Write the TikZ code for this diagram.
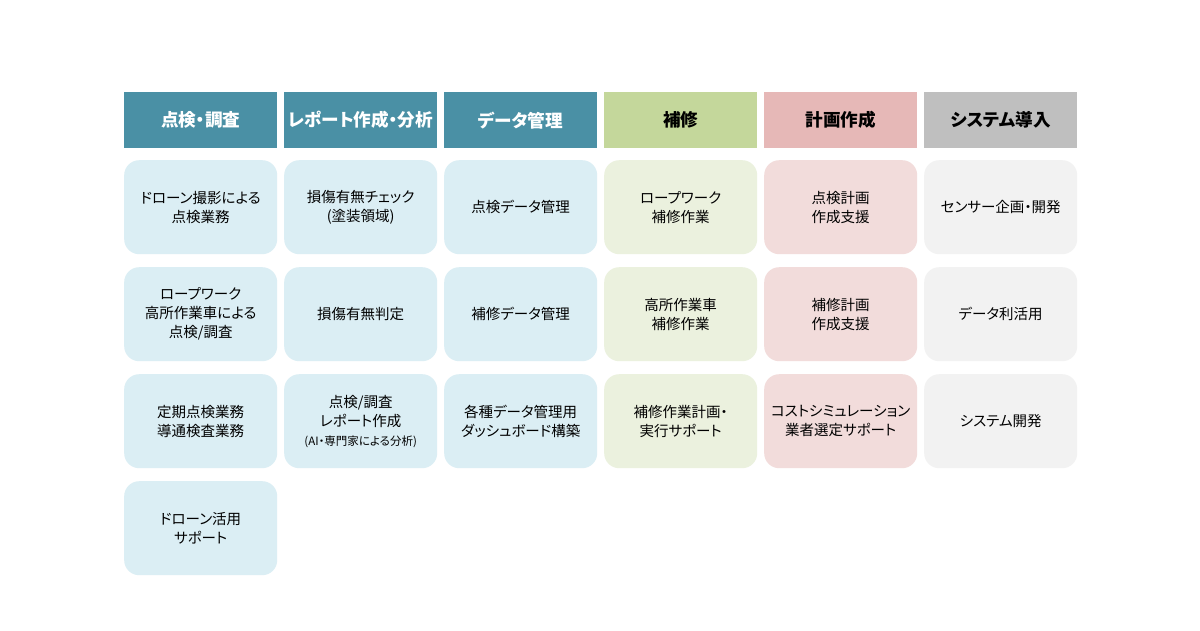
\documentclass[tikz,border=0pt]{standalone}
\usepackage{fontspec}
\setmainfont{Noto Sans CJK JP}[RawFeature=+palt]
\begin{document}
\begin{tikzpicture}[x=1pt,y=-1pt,
  hdr/.style={minimum width=153pt,minimum height=56pt,inner sep=0pt,font=\fontsize{17.6}{20}\selectfont\bfseries,anchor=north west},
  card/.style={minimum width=153pt,minimum height=94pt,inner sep=0pt,rounded corners=15pt,align=center,font=\fontsize{14.5}{19}\selectfont,anchor=north west},
  bluehdr/.style={hdr,fill=hteal,text=white},
  greenhdr/.style={hdr,fill=hgreen,text=black},
  pinkhdr/.style={hdr,fill=hpink,text=black},
  greyhdr/.style={hdr,fill=hgrey,text=black},
  bluecard/.style={card,fill=cblue},
  greencard/.style={card,fill=cgreen},
  pinkcard/.style={card,fill=cpink},
  greycard/.style={card,fill=cgrey}]
\definecolor{hteal}{HTML}{4A90A5}
\definecolor{hgreen}{HTML}{C4D79B}
\definecolor{hpink}{HTML}{E6B8B7}
\definecolor{hgrey}{HTML}{BFBFBF}
\definecolor{cblue}{HTML}{DBEEF4}
\definecolor{cgreen}{HTML}{EBF1DE}
\definecolor{cpink}{HTML}{F2DCDB}
\definecolor{cgrey}{HTML}{F2F2F2}
\useasboundingbox[fill=white] (0,0) rectangle (1200,630);
% headers
\node[bluehdr] (h1) at (124,92) {点検・調査};
\node[bluehdr] (h2) at (284,92) {レポート作成・分析};
\node[bluehdr] (h3) at (444,92) {データ管理};
\node[greenhdr] (h4) at (604,92) {補修};
\node[pinkhdr] (h5) at (764,92) {計画作成};
\node[greyhdr] (h6) at (924,92) {システム導入};
% column 1
\node[bluecard] (c11) at (124,160) {ドローン撮影による\\点検業務};
\node[bluecard] (c12) at (124,267) {ロープワーク\\高所作業車による\\点検/調査};
\node[bluecard] (c13) at (124,374) {定期点検業務\\導通検査業務};
\node[bluecard] (c14) at (124,481) {ドローン活用\\サポート};
% column 2
\node[bluecard] (c21) at (284,160) {損傷有無チェック\\(塗装領域)};
\node[bluecard] (c22) at (284,267) {損傷有無判定};
\node[bluecard] (c23) at (284,374) {点検/調査\\レポート作成\\{\fontsize{11.5}{16}\selectfont (AI・専門家による分析)}};
% column 3
\node[bluecard] (c31) at (444,160) {点検データ管理};
\node[bluecard] (c32) at (444,267) {補修データ管理};
\node[bluecard] (c33) at (444,374) {各種データ管理用\\ダッシュボード構築};
% column 4
\node[greencard] (c41) at (604,160) {ロープワーク\\補修作業};
\node[greencard] (c42) at (604,267) {高所作業車\\補修作業};
\node[greencard] (c43) at (604,374) {補修作業計画・\\実行サポート};
% column 5
\node[pinkcard] (c51) at (764,160) {点検計画\\作成支援};
\node[pinkcard] (c52) at (764,267) {補修計画\\作成支援};
\node[pinkcard] (c53) at (764,374) {コストシミュレーション\\業者選定サポート};
% column 6
\node[greycard] (c61) at (924,160) {センサー企画・開発};
\node[greycard] (c62) at (924,267) {データ利活用};
\node[greycard] (c63) at (924,374) {システム開発};
\end{tikzpicture}
\end{document}
